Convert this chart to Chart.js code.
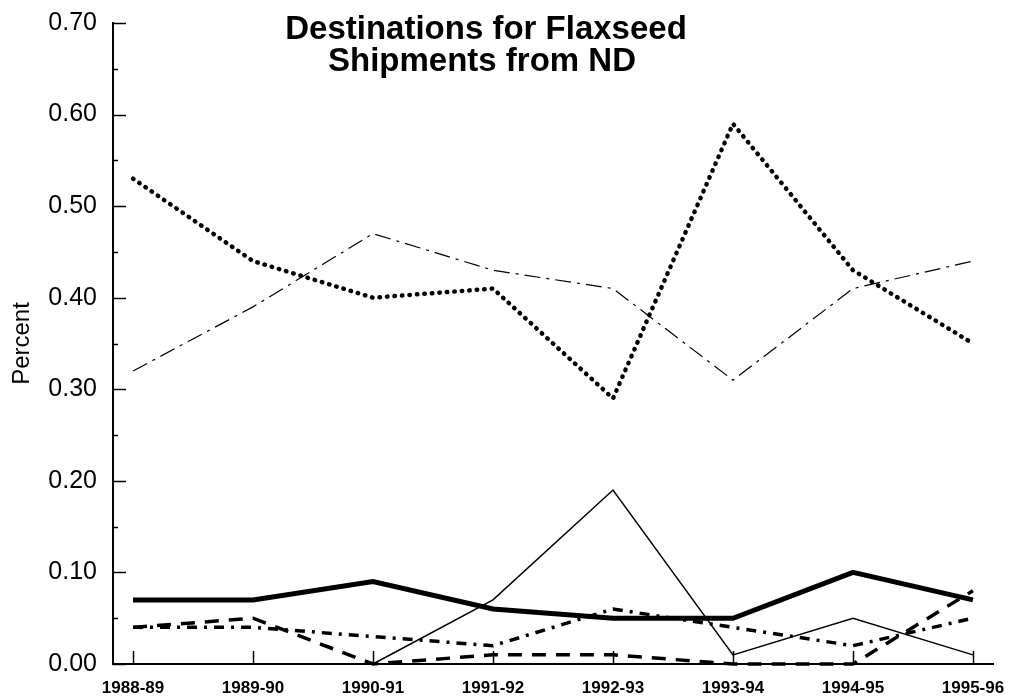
<!DOCTYPE html>
<html>
<head>
<meta charset="utf-8">
<script src="https://cdn.jsdelivr.net/npm/chart.js@4.4.1/dist/chart.umd.min.js"></script>
<style>
  html, body { margin: 0; padding: 0; background: #fff; }
  #wrap { width: 1015px; height: 698px; }
</style>
</head>
<body>
<div id="wrap"><canvas id="flax"></canvas></div>
<script>
const years = ['1988-89', '1989-90', '1990-91', '1991-92', '1992-93', '1993-94', '1994-95', '1995-96']
const yTicks = [0, 0.1, 0.2, 0.3, 0.4, 0.5, 0.6, 0.7]

// values, one array per line
const dottedThick = [0.53, 0.44, 0.40, 0.41, 0.29, 0.59, 0.43, 0.35]
const dashDotThin = [0.32, 0.39, 0.47, 0.43, 0.41, 0.31, 0.41, 0.44]
const solidThick = [0.07, 0.07, 0.09, 0.06, 0.05, 0.05, 0.10, 0.07]
const solidThin = [null, null, 0.00, 0.07, 0.19, 0.01, 0.05, 0.01]
const dashDotThick = [0.04, 0.04, 0.03, 0.02, 0.06, 0.04, 0.02, 0.05]
const longDash = [0.04, 0.05, 0.00, 0.01, 0.01, 0.00, 0.00, 0.08]

const titleLines = ['Destinations for Flaxseed', 'Shipments from ND']
const font = "'Liberation Sans', Arial, Helvetica, sans-serif"

function toPoints(values) {
    let pts = []
    values.forEach((v, i) => pts.push({ x: i, y: v }))
    return pts
}

function line(label, values, width, dash, cap) {
    return {
        label: label,
        data: toPoints(values),
        borderColor: '#000',
        backgroundColor: '#000',
        borderWidth: width,
        borderDash: dash,
        borderCapStyle: cap || 'butt',
        pointRadius: 0,
        tension: 0,
        spanGaps: false,
        clip: false
    }
}

// inward tick marks and the title drawn over the plot
const extras = {
    id: 'extras',
    afterDraw(chart) {
        const ctx = chart.ctx
        const x = chart.scales.x
        const y = chart.scales.y
        const area = chart.chartArea
        ctx.save()
        ctx.strokeStyle = '#000'
        ctx.lineWidth = 1.5
        for (let v = 0; v <= 0.7001; v += 0.05) {
            const py = Math.round(y.getPixelForValue(v)) + 0.5
            const big = Math.abs(v * 10 - Math.round(v * 10)) < 0.01
            ctx.beginPath()
            ctx.moveTo(area.left, py)
            ctx.lineTo(area.left + (big ? 13 : 5), py)
            ctx.stroke()
        }
        years.forEach((yr, i) => {
            const px = Math.round(x.getPixelForValue(i)) + 0.5
            ctx.beginPath()
            ctx.moveTo(px, area.bottom)
            ctx.lineTo(px, area.bottom - 13)
            ctx.stroke()
        })
        ctx.fillStyle = '#000'
        ctx.font = 'bold 33px ' + font
        ctx.textAlign = 'center'
        ctx.textBaseline = 'alphabetic'
        ctx.fillText(titleLines[0], 486, 39)
        ctx.fillText(titleLines[1], 482, 71)
        ctx.restore()
    }
}

new Chart(document.getElementById('flax'), {
    type: 'line',
    data: {
        datasets: [
            line('Series 1', dottedThick, 4.5, [0.5, 7], 'round'),
            line('Series 2', dashDotThin, 1.2, [16, 6, 3, 6]),
            line('Series 3', solidThick, 5),
            line('Series 4', solidThin, 1.5),
            line('Series 5', dashDotThick, 3.5, [10, 7, 3, 7]),
            line('Series 6', longDash, 3.5, [14, 10])
        ]
    },
    options: {
        responsive: true,
        maintainAspectRatio: false,
        animation: false,
        layout: { padding: { top: 23, right: 22, left: 0, bottom: 0 } },
        plugins: {
            legend: { display: false },
            title: { display: false },
            tooltip: { enabled: false }
        },
        scales: {
            x: {
                type: 'linear',
                min: -0.167,
                max: 7.167,
                afterFit: s => { s.height = 34; s.paddingLeft = 0; s.paddingRight = 0 },
                afterBuildTicks: s => { s.ticks = years.map((yr, i) => ({ value: i })) },
                grid: { display: false, drawTicks: false },
                border: { display: true, color: '#000', width: 2 },
                ticks: {
                    color: '#000',
                    padding: 14,
                    maxRotation: 0,
                    autoSkip: false,
                    font: { family: font, size: 17, weight: 'bold' },
                    callback: v => years[v]
                }
            },
            y: {
                min: 0,
                max: 0.7,
                afterFit: s => { s.width = 113; s.paddingTop = 0; s.paddingBottom = 0 },
                afterBuildTicks: s => { s.ticks = yTicks.map(v => ({ value: v })) },
                grid: { display: false, drawTicks: false },
                border: { display: true, color: '#000', width: 2 },
                title: {
                    display: true,
                    text: 'Percent',
                    color: '#000',
                    padding: { top: 8, bottom: 0 },
                    font: { family: font, size: 24 }
                },
                ticks: {
                    color: '#000',
                    padding: 16,
                    font: { family: font, size: 25 },
                    callback: v => v.toFixed(2)
                }
            }
        }
    },
    plugins: [extras]
})
</script>
</body>
</html>
